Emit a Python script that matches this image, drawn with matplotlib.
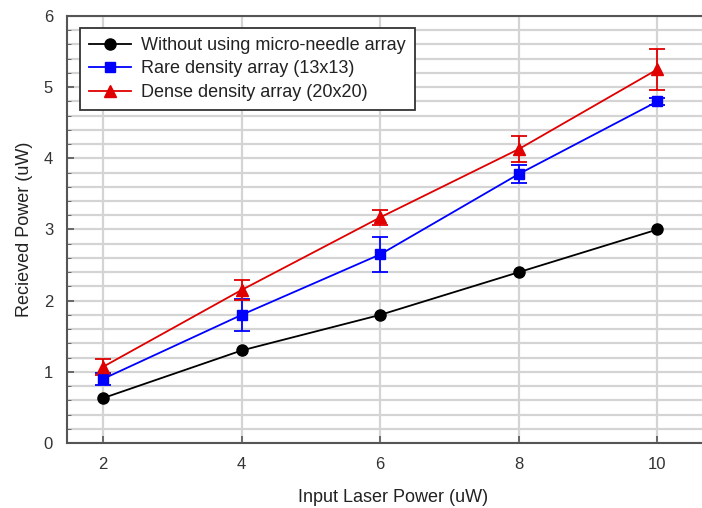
import numpy as np
import matplotlib.pyplot as plt

plt.rcParams['font.family'] = ['Liberation Sans', 'DejaVu Sans']

laser = [2, 4, 6, 8, 10]
without = [0.63, 1.30, 1.80, 2.40, 3.00]
rare = [0.90, 1.80, 2.65, 3.78, 4.80]
rare_err = [0.09, 0.22, 0.25, 0.13, 0.05]
dense = [1.07, 2.15, 3.17, 4.13, 5.25]
dense_err = [0.11, 0.14, 0.10, 0.18, 0.29]

fig = plt.figure(figsize=(7.02, 5.08), dpi=100)
ax = fig.add_axes([0.0954, 0.128, 0.93, 0.8405])

l1, = ax.plot(laser, without, color='black', marker='o', markersize=8, lw=1.3,
              label='Without using micro-needle array', zorder=5)
e2 = ax.errorbar(laser, rare, yerr=rare_err, color='#0000ff', marker='s', markersize=7,
                 lw=1.3, capsize=6, capthick=1.3, elinewidth=1.3,
                 label='Rare density array (13x13)', zorder=5)
e3 = ax.errorbar(laser, dense, yerr=dense_err, color='#e00000', marker='^', markersize=8,
                 lw=1.3, capsize=6, capthick=1.3, elinewidth=1.3,
                 label='Dense density array (20x20)', zorder=5)

ax.set_xlim(1.48, 10.9)
ax.set_ylim(0, 6)
ax.set_xticks(laser)
ax.set_yticks(range(7))
ax.set_yticks(np.arange(0, 6.01, 0.2), minor=True)
ax.grid(True, which='both', axis='y', color='#d4d4d4', lw=1.6)
ax.grid(True, which='major', axis='x', color='#d4d4d4', lw=1.6)
ax.set_axisbelow(True)
ax.tick_params(direction='in', length=5, width=1.2, color='#555555',
               labelsize=12, labelcolor='#333333', pad=10)
ax.tick_params(which='minor', direction='in', length=3, color='#555555')
ax.tick_params(axis='x', which='minor', bottom=False)
for s in ['left', 'bottom', 'top']:
    ax.spines[s].set_color('#555555')
    ax.spines[s].set_linewidth(1.5)
ax.spines['right'].set_visible(False)

ax.set_xlabel('Input Laser Power (uW)', fontsize=13, color='#222222', labelpad=12)
ax.set_ylabel('Recieved Power (uW)', fontsize=13, color='#222222', labelpad=8)

handles = [l1, e2[0], e3[0]]
labels = [h.get_label() for h in (l1, e2, e3)]
leg = ax.legend(handles, labels, loc='upper left', bbox_to_anchor=(0.02, 0.972),
                borderaxespad=0, fontsize=13, fancybox=False, framealpha=1,
                edgecolor='#333333', handlelength=2.3, handletextpad=0.6,
                borderpad=0.5, labelspacing=0.36)
leg.get_frame().set_linewidth(1.3)
for t in leg.get_texts():
    t.set_color('#222222')

fig.savefig('out.png', dpi=100)
